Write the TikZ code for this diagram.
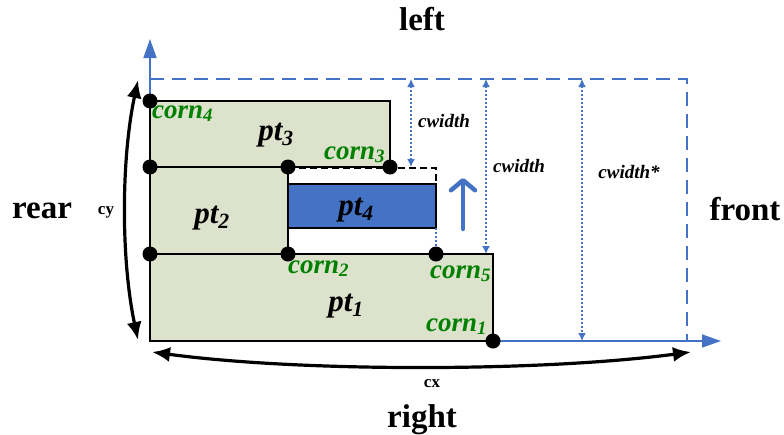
\documentclass[tikz,border=0pt]{standalone}
\usepackage{fontspec}
\setmainfont{Liberation Serif}
\usetikzlibrary{arrows.meta}
\definecolor{boxfill}{RGB}{221,226,204}
\definecolor{myblue}{RGB}{68,114,196}
\definecolor{cgreen}{RGB}{0,128,0}
\begin{document}
\begin{tikzpicture}[x=1pt,y=-1pt,
  bigl/.style={font=\fontsize{33}{33}\selectfont\bfseries, anchor=base, inner sep=0},
  ptl/.style={font=\fontsize{31}{31}\selectfont\bfseries\itshape, anchor=base, inner sep=0},
  cornl/.style={font=\fontsize{27}{27}\selectfont\bfseries\itshape, text=cgreen, anchor=base west, inner sep=0},
  cwl/.style={font=\fontsize{19}{19}\selectfont\bfseries\itshape, anchor=base, inner sep=0},
  smalll/.style={font=\fontsize{17}{17}\selectfont\bfseries, anchor=base, inner sep=0},
  partbox/.style={draw=black, fill=boxfill, line width=1.7},
  rowline/.style={draw=black, line width=2.2},
  axis/.style={draw=myblue, line width=1.5, -{Triangle[length=19,width=13]}},
  bluedash/.style={draw=myblue, line width=1.8, dash pattern=on 14 off 8},
  dimline/.style={draw=myblue, line width=1.6, dash pattern=on 2 off 2, {Latex[length=8,width=8]}-{Latex[length=8,width=8]}},
  curvearrow/.style={draw=black, line width=3.2, {Latex[length=18,width=15]}-{Latex[length=18,width=15]}},
  dot/.style={circle, fill=black, inner sep=0, minimum size=15},
]
\useasboundingbox (0,0) rectangle (784,434);

% coordinates
\coordinate (O) at (150,341);
\coordinate (ytip) at (150,39);
\coordinate (xs) at (493,341);
\coordinate (xtip) at (721,341);
\coordinate (TL) at (150,79);
\coordinate (TR) at (687,79);
\coordinate (BR) at (687,341);

% blue axes
\draw[axis] (O) -- (ytip);
\draw[axis] (xs) -- (xtip);
\draw[bluedash] (TL) -- (TR) -- (BR);

% boxes
\draw[partbox] (150,254) rectangle (493,341);
\draw[partbox] (150,167) rectangle (288,254);
\draw[partbox] (150,101) rectangle (390,167);
\draw[draw=black, fill=myblue, line width=1.7] (288,184) rectangle (436,228);
\draw[rowline] (150,167) -- (288,167);
\draw[rowline] (150,254) -- (288,254);

% dashed black outline of moved pt4
\coordinate (d0) at (288,168);
\coordinate (d2) at (436,168);
\coordinate (d3) at (436,184);
\draw[black, line width=1.8, dash pattern=on 7 off 4] (d0) -- (d2) -- (d3);
\coordinate (e1) at (436,228);
\coordinate (e2) at (436,254);
\draw[myblue, line width=1.6, dash pattern=on 2 off 2] (e1) -- (e2);

% blue up arrow
\coordinate (ua) at (463,229);
\coordinate (ub) at (463,178);
\draw[myblue, line width=4.5, line cap=round, -{Straight Barb[length=10,width=24,round]}] (ua) -- (ub);

% dimension lines
\coordinate (w1t) at (411,79);  \coordinate (w1b) at (411,167);
\coordinate (w2t) at (486,79);  \coordinate (w2b) at (486,254);
\coordinate (w3t) at (582,79);  \coordinate (w3b) at (582,341);
\draw[dimline] (w1t) -- (w1b);
\draw[dimline] (w2t) -- (w2b);
\draw[dimline] (w3t) -- (w3b);

% dots
\node[dot] (c4) at (150,101) {};
\node[dot] (r1) at (150,167) {};
\node[dot] (c2top) at (288,167) {};
\node[dot] (c3) at (390,167) {};
\node[dot] (r2) at (150,254) {};
\node[dot] (c2) at (288,254) {};
\node[dot] (c5) at (436,254) {};
\node[dot] (c1) at (493,341) {};

% curved arrows
\coordinate (cyt) at (138,80);
\coordinate (cyb) at (138,340);
\draw[curvearrow] (cyt) .. controls (121,160) and (121,260) .. (cyb);
\coordinate (cxl) at (152,352);
\coordinate (cxr) at (691,352);
\draw[curvearrow] (cxl) .. controls (300,372) and (540,372) .. (cxr);

% labels
\node[cornl] (lc4) at (152,118) {corn\textsubscript{4}};
\node[cornl] (lc3) at (324,159) {corn\textsubscript{3}};
\node[cornl] (lc2) at (288,273) {corn\textsubscript{2}};
\node[cornl] (lc5) at (430,278) {corn\textsubscript{5}};
\node[cornl] (lc1) at (426,331) {corn\textsubscript{1}};

\node[ptl] (p3) at (276,140) {pt\textsubscript{3}};
\node[ptl] (p2) at (212,223) {pt\textsubscript{2}};
\node[ptl] (p4) at (356,215) {pt\textsubscript{4}};
\node[ptl] (p1) at (346,311) {pt\textsubscript{1}};

\node[cwl] (cw1) at (444,127) {cwidth};
\node[cwl] (cw2) at (519,172) {cwidth};
\node[cwl] (cw3) at (629,178) {cwidth*};

\node[smalll] (lcx) at (432,387) {cx};
\node[smalll] (lcy) at (106,214) {cy};

\node[bigl] (left) at (422,30) {left};
\node[bigl] (rear) at (42,218) {rear};
\node[bigl] (front) at (745,220) {front};
\node[bigl] (right) at (422,427) {right};
\end{tikzpicture}
\end{document}
